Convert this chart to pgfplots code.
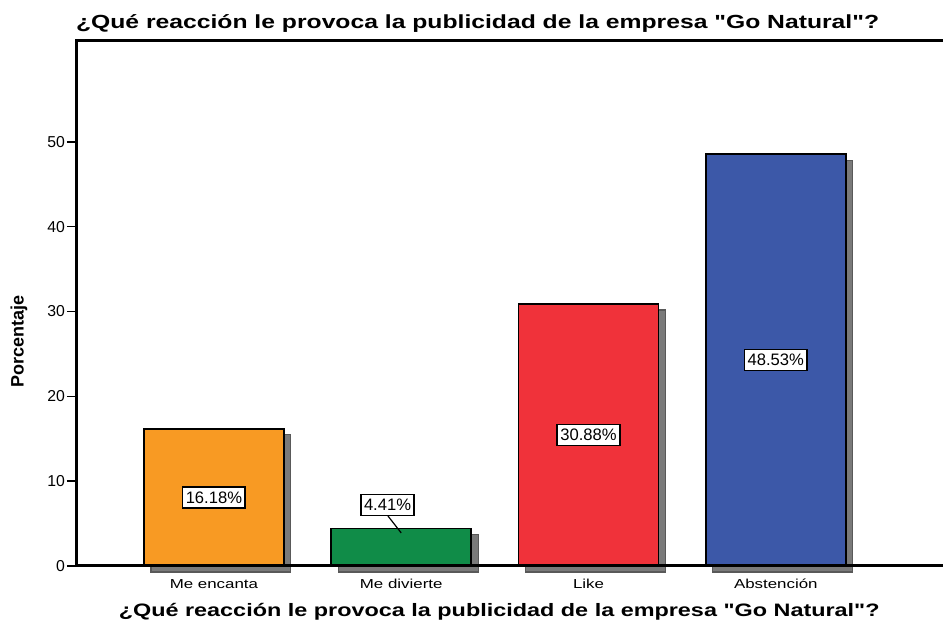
\documentclass[border=0pt]{standalone}
\usepackage{fontspec}
\setmainfont{Liberation Sans}
\newfontfamily\wide{Liberation Sans}[FakeStretch=1.3]
\usepackage{pgfplots}
\pgfplotsset{compat=1.18}
\definecolor{cOrange}{RGB}{248,154,35}
\definecolor{cGreen}{RGB}{16,140,72}
\definecolor{cRed}{RGB}{240,50,58}
\definecolor{cBlue}{RGB}{60,88,168}
\begin{document}
\begin{tikzpicture}
\useasboundingbox (0,0) rectangle (471.5pt,312.5pt);
\begin{axis}[
  at={(38.5pt,29.5pt)}, anchor=south west,
  scale only axis, width=438pt, height=263pt,
  xmin=-0.731, xmax=3.946, ymin=0, ymax=62,
  clip=false, axis on top,
  axis line style={line width=1.5pt},
  ytick={0,10,20,30,40,50},
  xtick={0,1,2,3},
  xticklabels={Me encanta, Me divierte, Like, Abstención},
  tick align=outside,
  ytick style={black, line width=0.8pt},
  xtick style={draw=none},
  major tick length=5pt,
  /pgf/number format/assume math mode=true,
  yticklabel style={font=\fontsize{7.9}{9}\selectfont, xshift=2.5pt},
  xticklabel style={font=\wide\fontsize{6.5}{7}\selectfont, yshift=2pt},
  title={\wide\bfseries\fontsize{9.5}{11}\selectfont ¿Qué reacción le provoca la publicidad de la empresa "Go Natural"?},
  title style={at={(0,1)}, anchor=base west, xshift=-4pt, yshift=0pt},
  xlabel={\wide\bfseries\fontsize{9}{10}\selectfont ¿Qué reacción le provoca la publicidad de la empresa "Go Natural"?},
  xlabel style={at={(axis description cs:0.482,0)}, anchor=base, yshift=-25.5pt},
  ylabel={\bfseries\fontsize{9}{10}\selectfont Porcentaje},
  ylabel style={at={(axis description cs:0,0.426)}, anchor=center, yshift=29pt},
]
% shadows
\addplot[ybar, bar width=0.747, bar shift=0pt, fill=black!52, draw=black!65, line width=0.6pt, xshift=3.5pt, yshift=-3pt]
  coordinates {(0,16.18) (1,4.41) (2,30.88) (3,48.53)};
% bars
\addplot[ybar, bar width=0.747, bar shift=0pt, fill=cOrange, draw=black, line width=0.8pt] coordinates {(0,16.18)};
\addplot[ybar, bar width=0.747, bar shift=0pt, fill=cGreen, draw=black, line width=0.8pt] coordinates {(1,4.41)};
\addplot[ybar, bar width=0.747, bar shift=0pt, fill=cRed, draw=black, line width=0.8pt] coordinates {(2,30.88)};
\addplot[ybar, bar width=0.747, bar shift=0pt, fill=cBlue, draw=black, line width=0.8pt] coordinates {(3,48.53)};
% leader line for small bar
\addplot[black, line width=0.6pt] coordinates {(0.929,5.9) (1.0,3.9)};
% value labels
\addplot[draw=none, mark=none, point meta=explicit symbolic,
  nodes near coords,
  nodes near coords style={anchor=center, draw=black, fill=white, line width=0.8pt, inner xsep=1.6pt, inner ysep=1.5pt, minimum height=10.5pt, font=\fontsize{8.3}{9}\selectfont}]
  table[meta=label] {
x y label
0 8.09 16.18\%
0.927 7.2 4.41\%
2 15.44 30.88\%
3 24.265 48.53\%
};
\end{axis}
\end{tikzpicture}
\end{document}
